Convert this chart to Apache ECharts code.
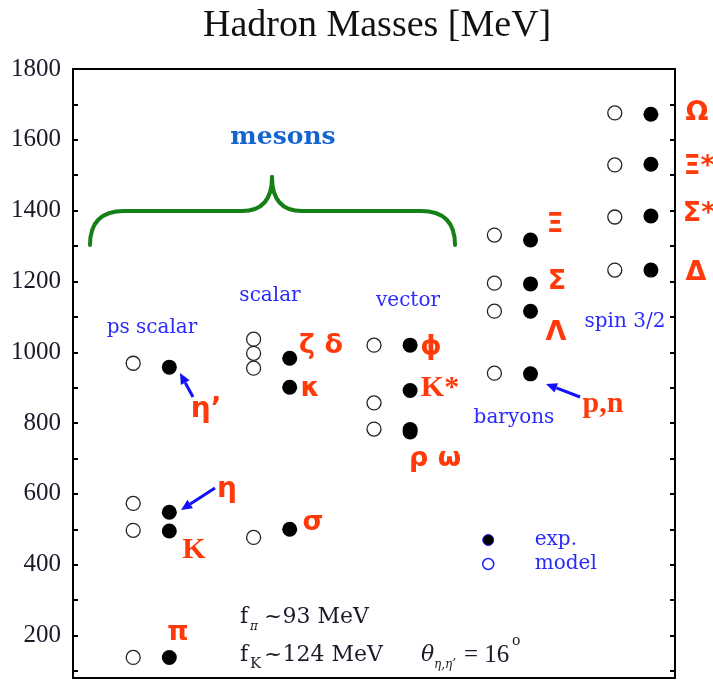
<!DOCTYPE html>
<html><head><meta charset="utf-8">
<script src="https://cdn.jsdelivr.net/npm/echarts@6/dist/echarts.min.js"></script>
<style>html,body{margin:0;padding:0;background:#fff}#c{width:713px;height:682px}</style>
</head><body><div id="c"></div>
<script>
// ---- data (MeV) ----
const groups = ['ps scalar', 'scalar', 'vector', 'baryons', 'spin 3/2'];
const modelMasses = [
  [969, 573, 497, 138],
  [1037, 997, 955, 477],
  [1020, 857, 783],
  [1331, 1195, 1116, 941],
  [1676, 1529, 1382, 1232]
];
const expMasses = [
  [958, 548, 495, 138],
  [983, 901, 500],
  [1020, 892, 782, 775],
  [1317, 1193, 1116, 939],
  [1672, 1531, 1385, 1232]
];
const yLabelTicks = [200, 400, 600, 800, 1000, 1200, 1400, 1600, 1800];
const yAllTicks = [100, 200, 300, 400, 500, 600, 700, 800, 900, 1000, 1100, 1200, 1300, 1400, 1500, 1600, 1700, 1800];
const yMin = 80, yMax = 1800;

// ---- build series data ----
const MODEL_OFF = 0.5, EXP_OFF = 0.8;
const modelData = [], expData = [];
modelMasses.forEach((arr, i) => arr.forEach(v => modelData.push([i + MODEL_OFF, v])));
expMasses.forEach((arr, i) => arr.forEach(v => expData.push([i + EXP_OFF, v])));

const RED = '#ff3a0a', BLUE = '#2a2aff', GREEN = '#158015', INK = '#1a1a2a';

function T(x, y, text, o) {
  const s = Object.assign({text: text, fill: RED, fontFamily: 'DejaVu Sans', fontWeight: 'bold', fontSize: 27,
    align: 'center', verticalAlign: 'middle', textAlign: 'center', textVerticalAlign: 'middle'}, o || {});
  if (o && o.align) s.textAlign = o.align;
  if (o && o.verticalAlign) s.textVerticalAlign = o.verticalAlign;
  return {type: 'text', x: x, y: y, z: 20, silent: true, style: s};
}
function arrow(x1, y1, x2, y2) {
  const dx = x2 - x1, dy = y2 - y1, L = Math.sqrt(dx * dx + dy * dy);
  const ux = dx / L, uy = dy / L, hl = 11, hw = 5;
  const bx = x2 - ux * hl, by = y2 - uy * hl;
  return [
    {type: 'line', z: 20, silent: true, shape: {x1: x1, y1: y1, x2: bx, y2: by}, style: {stroke: '#1010ff', lineWidth: 3}},
    {type: 'polygon', z: 20, silent: true, shape: {points: [[x2, y2], [bx - uy * hw, by + ux * hw], [bx + uy * hw, by - ux * hw]]}, style: {fill: '#1010ff'}}
  ];
}
function bez(x1, y1, cx, cy, x2, y2) {
  return {type: 'bezierCurve', z: 15, silent: true, shape: {x1: x1, y1: y1, cpx1: cx, cpy1: cy, x2: x2, y2: y2},
    style: {stroke: GREEN, lineWidth: 4, fill: null, lineCap: 'round'}};
}
function seg(x1, y1, x2, y2) {
  return {type: 'line', z: 15, silent: true, shape: {x1: x1, y1: y1, x2: x2, y2: y2}, style: {stroke: GREEN, lineWidth: 4}};
}

const groupLabelPos = [[152, 328], [270, 296], [408, 301], [514, 418], [625, 322]];
const BLUEFONT = {fill: BLUE, fontFamily: 'DejaVu Serif', fontWeight: 'normal', fontSize: 20};
const SERIF = {fill: INK, fontFamily: 'DejaVu Serif', fontWeight: 'normal', fontSize: 22, align: 'left'};
const KFONT = {fontFamily: 'Liberation Serif', fontSize: 30, fontWeight: 'bold'};

const graphics = [];
groups.forEach((g, i) => graphics.push(T(groupLabelPos[i][0], groupLabelPos[i][1], g, BLUEFONT)));
graphics.push(T(283, 137, 'mesons', {fill: '#1565d0', fontFamily: 'DejaVu Serif', fontWeight: 'bold', fontSize: 25}));
// brace
graphics.push(bez(90, 245, 90, 211, 124, 211), seg(124, 211, 242, 211), bez(242, 211, 272, 211, 272, 177),
  bez(272, 177, 272, 211, 302, 211), seg(302, 211, 421, 211), bez(421, 211, 455, 211, 455, 245));
// particle names
graphics.push(
  T(178, 633, 'π'),
  T(194, 550, 'K', KFONT),
  T(227, 490, 'η', {fontSize: 28}),
  T(206, 410, 'η\u2019', {fontSize: 28}),
  T(321, 346, 'ζ δ'),
  T(310, 389, 'κ'),
  T(313, 523, 'σ'),
  T(431, 347, '\u03D5'),
  T(440, 388, 'K*', KFONT),
  T(435, 459, 'ρ ω'),
  T(555, 225, 'Ξ'),
  T(557, 282, 'Σ'),
  T(556, 333, 'Λ'),
  T(603, 404, 'p,n', {fontFamily: 'Liberation Serif', fontSize: 30}),
  T(697, 113, 'Ω'),
  T(699, 167, 'Ξ*'),
  T(699, 214, 'Σ*'),
  T(696, 273, 'Δ')
);
graphics.push(...arrow(193, 397, 180, 373), ...arrow(215, 488, 181, 510), ...arrow(580, 397, 546, 384));
// bottom notes
graphics.push(
  T(240, 617, 'f', SERIF),
  T(250, 627, 'π', Object.assign({}, SERIF, {fontSize: 12, fontStyle: 'italic'})),
  T(264, 617, '~93 MeV', SERIF),
  T(240, 655, 'f', SERIF),
  T(250, 664, 'K', Object.assign({}, SERIF, {fontSize: 15})),
  T(264, 655, '~124 MeV', SERIF),
  T(421, 655, 'θ', Object.assign({}, SERIF, {fontStyle: 'italic'})),
  T(434, 665, 'η,η\u2019', Object.assign({}, SERIF, {fontSize: 12, fontStyle: 'italic'})),
  T(464, 655, '= 16', Object.assign({}, SERIF, {fontFamily: 'Liberation Serif', fontSize: 25})),
  T(512, 641, 'o', Object.assign({}, SERIF, {fontSize: 14}))
);

const axisLineStyle = {color: '#000', width: 2};
const option = {
  animation: false,
  backgroundColor: '#fff',
  title: {text: 'Hadron Masses [MeV]', left: 198, top: 2,
    textStyle: {fontFamily: 'Liberation Serif', fontWeight: 'normal', fontSize: 38, color: '#111'}},
  grid: {left: 73, right: 38, top: 69, bottom: 4},
  legend: {
    orient: 'vertical', left: 477, top: 525, itemWidth: 11, itemHeight: 11, itemGap: 4, icon: 'circle',
    textStyle: {color: BLUE, fontFamily: 'DejaVu Serif', fontSize: 20, padding: [0, 0, 0, 36]},
    data: [
      {name: 'exp.', itemStyle: {color: '#000', borderColor: '#2020ff', borderWidth: 1, opacity: 1}},
      {name: 'model', itemStyle: {color: '#fff', borderColor: '#2020ff', borderWidth: 1.5, opacity: 1}}
    ]
  },
  xAxis: [
    {type: 'value', min: 0, max: groups.length, position: 'bottom', axisLine: {show: true, lineStyle: axisLineStyle, onZero: false},
      axisTick: {show: false}, axisLabel: {show: false}, splitLine: {show: false}},
    {type: 'value', min: 0, max: groups.length, position: 'top', axisLine: {show: true, lineStyle: axisLineStyle, onZero: false},
      axisTick: {show: false}, axisLabel: {show: false}, splitLine: {show: false}}
  ],
  yAxis: [
    {type: 'value', min: yMin, max: yMax, position: 'left',
      axisLine: {show: true, lineStyle: axisLineStyle, onZero: false},
      axisTick: {show: true, inside: true, length: 5, lineStyle: {color: '#000', width: 2}, customValues: yAllTicks},
      axisLabel: {show: true, customValues: yLabelTicks, margin: 12, color: INK, fontFamily: 'Liberation Serif', fontSize: 25,
        formatter: v => String(v)},
      splitLine: {show: false}},
    {type: 'value', min: yMin, max: yMax, position: 'right',
      axisLine: {show: true, lineStyle: axisLineStyle, onZero: false},
      axisTick: {show: true, inside: true, length: 5, lineStyle: {color: '#000', width: 2}, customValues: yAllTicks},
      axisLabel: {show: false}, splitLine: {show: false}}
  ],
  series: [
    {name: 'model', type: 'scatter', data: modelData, symbol: 'circle', symbolSize: 14,
      itemStyle: {color: '#fff', borderColor: '#222', borderWidth: 1.3, opacity: 1}, z: 3},
    {name: 'exp.', type: 'scatter', data: expData, symbol: 'circle', symbolSize: 15,
      itemStyle: {color: '#000', opacity: 1}, z: 4}
  ],
  graphic: graphics
};
const chart = echarts.init(document.getElementById('c'));
chart.setOption(option);
</script>
</body></html>
